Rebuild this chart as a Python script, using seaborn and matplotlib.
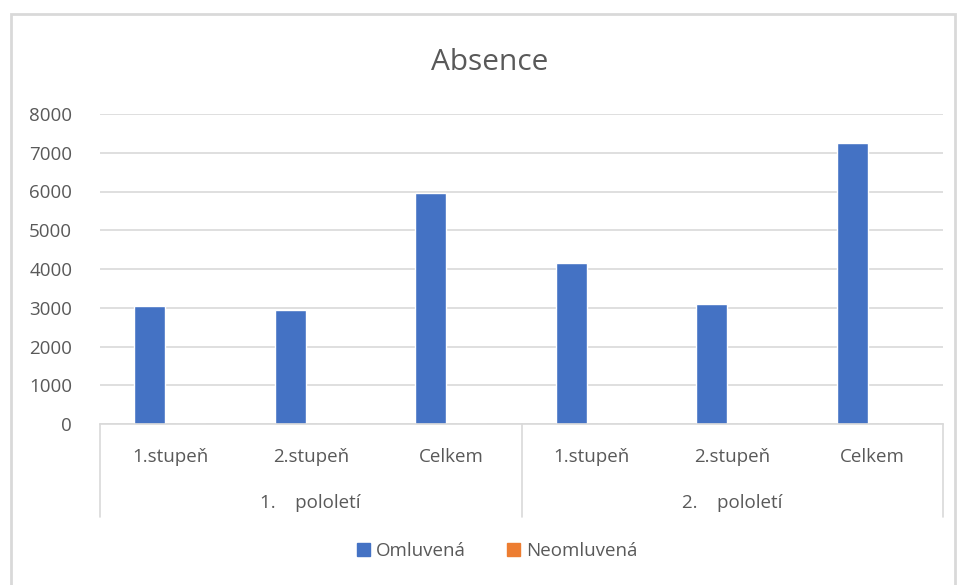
import numpy as np
import pandas as pd
import seaborn as sns
import matplotlib.pyplot as plt
import matplotlib.patches as mpatches
from matplotlib.lines import Line2D

# data
pololeti   = ["1.    pololetí", "2.    pololetí"]
stupne     = ["1.stupeň", "2.stupeň", "Celkem"]
omluvena   = [3035, 2935, 5950, 4155, 3105, 7240]
neomluvena = [0, 0, 0, 0, 0, 0]
yticks     = [0, 1000, 2000, 3000, 4000, 5000, 6000, 7000, 8000]

keys = ["%d_%s" % (g, s) for g in range(len(pololeti)) for s in stupne]
df = pd.DataFrame({
    "key":   keys * 2,
    "value": omluvena + neomluvena,
    "typ":   ["Omluvená"] * 6 + ["Neomluvená"] * 6,
})

colors = ["#4472C4", "#ED7D31"]
grey_txt = "#595959"
grid_c = "#D9D9D9"

sns.set_style("white")
plt.rcParams['font.family'] = ['Open Sans', 'DejaVu Sans']

fig = plt.figure(figsize=(9.6, 5.85), dpi=100)
ax = fig.add_axes([100/960, 1-424/585, 843/960, 310/585])

sns.barplot(data=df, x="key", y="value", hue="typ", order=keys,
            hue_order=["Omluvená", "Neomluvená"], palette=colors,
            width=0.58, gap=0.24, dodge=True, ax=ax, legend=False,
            saturation=1, errorbar=None)

ax.set_ylim(0, 8000)
ax.set_xlim(-0.5, 5.5)
ax.set_yticks(yticks)
ax.set_yticklabels([str(v) for v in yticks], fontsize=13.5, color=grey_txt)
ax.tick_params(axis="y", length=0, pad=20)
ax.tick_params(axis="x", length=0, pad=17)
ax.set_xticks(range(len(keys)))
ax.set_xticklabels(stupne * 2, fontsize=13.5, color=grey_txt)
ax.set_xlabel("")
ax.set_ylabel("")
ax.yaxis.grid(True, color=grid_c, linewidth=1.2)
ax.set_axisbelow(True)
for s in ["top", "right", "left"]:
    ax.spines[s].set_visible(False)
ax.spines["bottom"].set_color(grid_c)
ax.spines["bottom"].set_linewidth(1.2)

# group separators and group labels below the axis
trans = ax.get_xaxis_transform()
for xv in [-0.5, 2.5, 5.5]:
    ax.add_line(Line2D([xv, xv], [0, -0.3], transform=trans, color=grid_c,
                       linewidth=1.2, clip_on=False))
for i, g in enumerate(pololeti):
    ax.text(1 + 3*i, -0.255, g, transform=trans, ha="center", va="center",
            fontsize=13.5, color=grey_txt)

fig.text(490/960, 1-63/585, "Absence", ha="center", va="center",
         fontsize=21.5, color=grey_txt)

handles = [mpatches.Patch(color=colors[0], label="Omluvená"),
           mpatches.Patch(color=colors[1], label="Neomluvená")]
fig.legend(handles=handles, loc="center", bbox_to_anchor=(497/960, 1-551/585),
           ncol=2, frameon=False, fontsize=13.5, handlelength=0.7,
           handleheight=0.7, handletextpad=0.3, columnspacing=2.2,
           labelcolor=grey_txt)

fig.patches.append(mpatches.Rectangle((11/960, -0.05), 944/960, 1.05 - 14/585,
                                      transform=fig.transFigure, fill=False,
                                      edgecolor=grid_c, linewidth=2))

fig.savefig("out.png", dpi=100)
